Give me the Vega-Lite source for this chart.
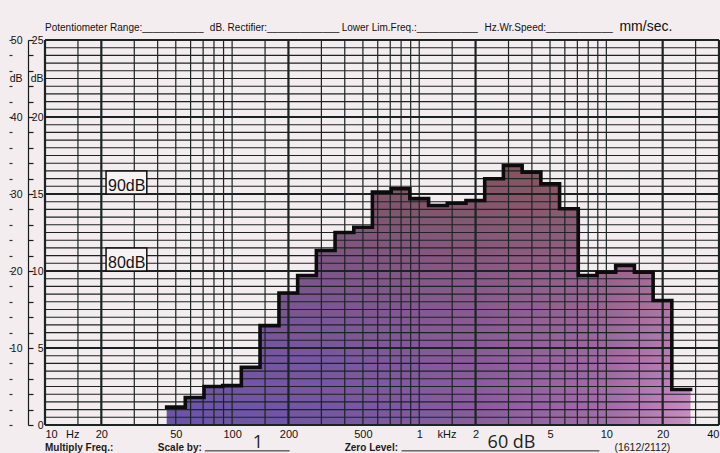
{
  "$schema": "https://vega.github.io/schema/vega-lite/v6.json",
  "description": "1/3-octave band spectrum on level recorder paper",
  "width": 674,
  "height": 385,
  "autosize": "none",
  "padding": {"left": 45, "top": 40, "right": 1, "bottom": 28},
  "background": "#f4edef",
  "config": {
    "view": {"stroke": null},
    "font": "Liberation Sans",
    "axis": {"labelColor": "#111111", "title": null, "grid": false}
  },
  "datasets": {
    "spectrum": [
      {"f": 44.7, "db": 1.16},
      {"f": 56.2, "db": 1.79},
      {"f": 70.8, "db": 2.5},
      {"f": 89.1, "db": 2.56},
      {"f": 112, "db": 3.75},
      {"f": 141, "db": 6.45},
      {"f": 178, "db": 8.57},
      {"f": 224, "db": 9.71},
      {"f": 282, "db": 11.33},
      {"f": 355, "db": 12.5},
      {"f": 447, "db": 12.84},
      {"f": 562, "db": 15.12},
      {"f": 708, "db": 15.34},
      {"f": 891, "db": 14.7},
      {"f": 1122, "db": 14.25},
      {"f": 1413, "db": 14.4},
      {"f": 1778, "db": 14.58},
      {"f": 2239, "db": 15.99},
      {"f": 2818, "db": 16.85},
      {"f": 3548, "db": 16.42},
      {"f": 4467, "db": 15.66},
      {"f": 5623, "db": 14.04},
      {"f": 7079, "db": 9.71},
      {"f": 8913, "db": 9.92},
      {"f": 11220, "db": 10.36},
      {"f": 14125, "db": 9.92},
      {"f": 17783, "db": 8.08},
      {"f": 22387, "db": 2.31},
      {"f": 28184, "db": 2.31}
    ],
    "fgrid": [
      {"f": 10}, {"f": 15}, {"f": 20}, {"f": 30}, {"f": 40}, {"f": 50}, {"f": 60}, {"f": 70}, {"f": 80}, {"f": 90},
      {"f": 100}, {"f": 150}, {"f": 200}, {"f": 300}, {"f": 400}, {"f": 500}, {"f": 600}, {"f": 700}, {"f": 800}, {"f": 900},
      {"f": 1000}, {"f": 1500}, {"f": 2000}, {"f": 3000}, {"f": 4000}, {"f": 5000}, {"f": 6000}, {"f": 7000}, {"f": 8000}, {"f": 9000},
      {"f": 10000}, {"f": 15000}, {"f": 20000}, {"f": 30000}, {"f": 40000}
    ],
    "dbgrid": [
      {"db": 0}, {"db": 0.5}, {"db": 1}, {"db": 1.5}, {"db": 2}, {"db": 2.5}, {"db": 3}, {"db": 3.5}, {"db": 4}, {"db": 4.5},
      {"db": 5}, {"db": 5.5}, {"db": 6}, {"db": 6.5}, {"db": 7}, {"db": 7.5}, {"db": 8}, {"db": 8.5}, {"db": 9}, {"db": 9.5},
      {"db": 10}, {"db": 10.5}, {"db": 11}, {"db": 11.5}, {"db": 12}, {"db": 12.5}, {"db": 13}, {"db": 13.5}, {"db": 14}, {"db": 14.5},
      {"db": 15}, {"db": 15.5}, {"db": 16}, {"db": 16.5}, {"db": 17}, {"db": 17.5}, {"db": 18}, {"db": 18.5}, {"db": 19}, {"db": 19.5},
      {"db": 20}, {"db": 20.5}, {"db": 21}, {"db": 21.5}, {"db": 22}, {"db": 22.5}, {"db": 23}, {"db": 23.5}, {"db": 24}, {"db": 24.5},
      {"db": 25}
    ],
    "boxes": [
      {"label": "90dB", "f1": 21.2, "f2": 35, "db1": 15, "db2": 16.5},
      {"label": "80dB", "f1": 21.2, "f2": 35, "db1": 10, "db2": 11.5}
    ],
    "header": [
      {"text": "Potentiometer Range:___________", "f": 10, "db": 25.58},
      {"text": "dB. Rectifier:_____________", "f": 76, "db": 25.58},
      {"text": "Lower Lim.Freq.:___________", "f": 385, "db": 25.58},
      {"text": "Hz.Wr.Speed:____________", "f": 2234, "db": 25.58},
      {"text": "mm/sec.", "f": 11749, "db": 25.58}
    ],
    "footer": [
      {"text": "Multiply Freq.:", "f": 10, "db": -1.72},
      {"text": "Scale by:", "f": 40.1, "db": -1.72},
      {"text": "Zero Level:", "f": 399.6, "db": -1.72}
    ],
    "blanks": [
      {"f1": 71.5, "f2": 203, "db": -1.68},
      {"f1": 805, "f2": 9183, "db": -1.68}
    ],
    "footnote": [
      {"text": "(1612/2112)", "f": 11041, "db": -1.72}
    ],
    "stamps": [
      {"text": "1", "f": 137.2, "db": -1.5},
      {"text": "60 dB", "f": 3114, "db": -1.5}
    ]
  },
  "resolve": {"axis": {"x": "independent", "y": "independent"}},
  "layer": [
    {
      "data": {"name": "spectrum"},
      "mark": {
        "type": "area",
        "interpolate": "step-after",
        "fill": {
          "gradient": "linear", "x1": 0, "y1": 0, "x2": 1, "y2": 0,
          "stops": [
            {"offset": 0, "color": "#6a54a8"},
            {"offset": 0.3, "color": "#7456a4"},
            {"offset": 0.6, "color": "#8a5c9e"},
            {"offset": 0.85, "color": "#a46eaa"},
            {"offset": 1, "color": "#cb8ec4"}
          ]
        }
      },
      "encoding": {
        "x": {
          "field": "f", "type": "quantitative",
          "scale": {"type": "log", "domain": [10, 40000], "nice": false},
          "axis": {
            "orient": "bottom",
            "values": [10, 14, 20, 50, 100, 200, 500, 1000, 1400, 2000, 5000, 10000, 20000, 40000],
            "labelExpr": "datum.value == 14 ? 'Hz' : datum.value == 1400 ? 'kHz' : datum.value >= 1000 ? format(datum.value / 1000, 'd') : format(datum.value, 'd')",
            "ticks": false, "domain": false, "labelPadding": 3, "labelFlush": true, "labelOverlap": false,
            "labelFontSize": 11, "labelFont": "Liberation Sans"
          }
        },
        "y": {
          "field": "db", "type": "quantitative",
          "scale": {"domain": [0, 25], "nice": false},
          "axis": {
            "orient": "left",
            "values": [0, 5, 10, 15, 20, 22.5, 25],
            "labelExpr": "datum.value == 22.5 ? 'dB' : datum.label",
            "ticks": false, "domain": false, "labelPadding": 2, "labelOverlap": false,
            "labelFontSize": 10.5, "labelFont": "Liberation Sans"
          }
        }
      }
    },
    {
      "data": {"name": "spectrum"},
      "mark": {
        "type": "area",
        "interpolate": "step-after",
        "fill": {
          "gradient": "linear", "x1": 0, "y1": 0, "x2": 0, "y2": 1,
          "stops": [
            {"offset": 0, "color": "rgba(128,82,80,0.85)"},
            {"offset": 0.45, "color": "rgba(134,86,100,0.4)"},
            {"offset": 1, "color": "rgba(140,90,150,0)"}
          ]
        }
      },
      "encoding": {
        "x": {"field": "f", "type": "quantitative", "scale": {"type": "log", "domain": [10, 40000], "nice": false}, "axis": null},
        "y": {"field": "db", "type": "quantitative", "scale": {"domain": [0, 25], "nice": false}, "axis": null}
      }
    },
    {
      "data": {"name": "dbgrid"},
      "mark": {"type": "rule", "color": "#1b2323"},
      "encoding": {
        "y": {
          "field": "db", "type": "quantitative",
          "scale": {"domain": [0, 25], "nice": false},
          "axis": {
            "orient": "left",
            "values": [5, 10, 15, 20, 22.5, 25],
            "labelExpr": "datum.value == 22.5 ? 'dB' : format(datum.value * 2, 'd')",
            "ticks": false, "domain": false, "labelPadding": 23, "labelOverlap": false,
            "labelFontSize": 10.5, "labelFont": "Liberation Sans"
          }
        },
        "strokeWidth": {"condition": {"test": "datum.db % 5 == 0", "value": 2.1}, "value": 1.1}
      }
    },
    {
      "data": {"name": "fgrid"},
      "mark": {"type": "rule", "color": "#1b2323"},
      "encoding": {
        "x": {"field": "f", "type": "quantitative", "scale": {"type": "log", "domain": [10, 40000], "nice": false}, "axis": null},
        "strokeWidth": {"condition": {"test": "indexof([10, 20, 200, 2000, 20000, 40000], datum.f) >= 0", "value": 2.2}, "value": 1.2}
      }
    },
    {
      "data": {"name": "spectrum"},
      "mark": {"type": "line", "interpolate": "step-after", "color": "#0c0c0c", "strokeWidth": 3.6, "strokeJoin": "miter", "strokeCap": "square"},
      "encoding": {
        "x": {"field": "f", "type": "quantitative", "scale": {"type": "log", "domain": [10, 40000], "nice": false}, "axis": null},
        "y": {
          "field": "db", "type": "quantitative",
          "scale": {"domain": [0, 25], "nice": false},
          "axis": {
            "orient": "left", "offset": 17,
            "values": [0, 1, 2, 3, 4, 5, 6, 7, 8, 9, 10, 11, 12, 13, 14, 15, 16, 17, 18, 19, 20, 21, 22, 23, 24, 25],
            "labels": false, "ticks": true, "tickSize": -5, "tickColor": "#1a1a1a", "tickWidth": 1.2,
            "domain": true, "domainColor": "#1a1a1a", "domainWidth": 1.2
          }
        }
      }
    },
    {
      "data": {"name": "boxes"},
      "mark": {"type": "rect", "fill": "#f7f2f3", "stroke": "#111111", "strokeWidth": 1.5},
      "encoding": {
        "x": {"field": "f1", "type": "quantitative", "scale": {"type": "log", "domain": [10, 40000], "nice": false}, "axis": null},
        "x2": {"field": "f2"},
        "y": {
          "field": "db1", "type": "quantitative",
          "scale": {"domain": [0, 25], "nice": false},
          "axis": {
            "orient": "left", "offset": 33,
            "values": [0, 1, 2, 3, 4, 5, 6, 7, 8, 9, 10, 11, 12, 13, 14, 15, 16, 17, 18, 19, 20, 21, 22, 23, 24, 25],
            "labels": false, "ticks": true, "tickSize": 3, "tickColor": "#333333", "tickWidth": 1.2,
            "domain": false
          }
        },
        "y2": {"field": "db2"}
      }
    },
    {
      "data": {"name": "boxes"},
      "mark": {"type": "text", "align": "left", "baseline": "alphabetic", "dx": 2, "dy": -3, "fontSize": 16, "font": "Liberation Sans", "color": "#141414"},
      "encoding": {
        "x": {"field": "f1", "type": "quantitative", "scale": {"type": "log", "domain": [10, 40000], "nice": false}, "axis": null},
        "y": {"field": "db1", "type": "quantitative", "scale": {"domain": [0, 25], "nice": false}, "axis": null},
        "text": {"field": "label"}
      }
    },
    {
      "data": {"name": "header"},
      "mark": {"type": "text", "align": "left", "baseline": "alphabetic", "color": "#111111"},
      "encoding": {
        "x": {"field": "f", "type": "quantitative", "scale": {"type": "log", "domain": [10, 40000], "nice": false}, "axis": null},
        "y": {"field": "db", "type": "quantitative", "scale": {"domain": [0, 25], "nice": false}, "axis": null},
        "text": {"field": "text"},
        "size": {"condition": {"test": "datum.text == 'mm/sec.'", "value": 14}, "value": 10}
      }
    },
    {
      "data": {"name": "blanks"},
      "mark": {"type": "rule", "color": "#222222", "strokeWidth": 1},
      "encoding": {
        "x": {"field": "f1", "type": "quantitative", "scale": {"type": "log", "domain": [10, 40000], "nice": false}, "axis": null},
        "x2": {"field": "f2"},
        "y": {"field": "db", "type": "quantitative", "scale": {"domain": [0, 25], "nice": false}, "axis": null}
      }
    },
    {
      "data": {"name": "footer"},
      "mark": {"type": "text", "align": "left", "baseline": "alphabetic", "fontSize": 10, "fontWeight": "bold", "color": "#1a1a1a"},
      "encoding": {
        "x": {"field": "f", "type": "quantitative", "scale": {"type": "log", "domain": [10, 40000], "nice": false}, "axis": null},
        "y": {"field": "db", "type": "quantitative", "scale": {"domain": [0, 25], "nice": false}, "axis": null},
        "text": {"field": "text"}
      }
    },
    {
      "data": {"name": "footnote"},
      "mark": {"type": "text", "align": "left", "baseline": "alphabetic", "fontSize": 10.5, "color": "#1a1a1a"},
      "encoding": {
        "x": {"field": "f", "type": "quantitative", "scale": {"type": "log", "domain": [10, 40000], "nice": false}, "axis": null},
        "y": {"field": "db", "type": "quantitative", "scale": {"domain": [0, 25], "nice": false}, "axis": null},
        "text": {"field": "text"}
      }
    },
    {
      "data": {"name": "stamps"},
      "mark": {"type": "text", "align": "center", "baseline": "alphabetic", "fontSize": 18, "font": "Open Sans", "color": "#222222"},
      "encoding": {
        "x": {"field": "f", "type": "quantitative", "scale": {"type": "log", "domain": [10, 40000], "nice": false}, "axis": null},
        "y": {"field": "db", "type": "quantitative", "scale": {"domain": [0, 25], "nice": false}, "axis": null},
        "text": {"field": "text"}
      }
    }
  ]
}
